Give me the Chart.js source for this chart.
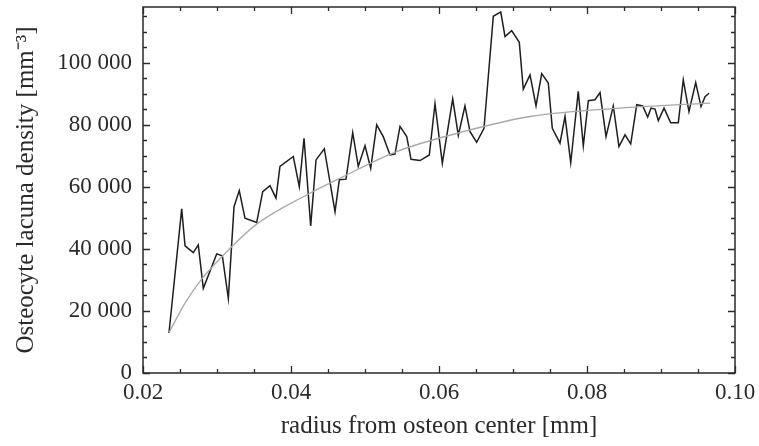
<!DOCTYPE html>
<html>
<head>
<meta charset="utf-8">
<script src="https://cdn.jsdelivr.net/npm/chart.js@4/dist/chart.umd.min.js"></script>
<style>
  html, body { margin: 0; padding: 0; background: #fff; }
  #wrap { width: 759px; height: 446px; }
</style>
</head>
<body>
<div id="wrap"><canvas id="chart" width="759" height="446"></canvas></div>
<script>
// radius from osteon center [mm], measured density [mm^-3]
const radius = [
    0.02351, 0.02523, 0.02568, 0.02680, 0.02747, 0.02815, 0.02996, 0.03072, 0.03153, 0.03230,
    0.03301, 0.03378, 0.03536, 0.03618, 0.03716, 0.03797, 0.03851, 0.04031, 0.04112, 0.04176,
    0.04266, 0.04338, 0.04450, 0.04595, 0.04653, 0.04743, 0.04834, 0.04909, 0.05000, 0.05077,
    0.05158, 0.05247, 0.05338, 0.05405, 0.05473, 0.05564, 0.05622, 0.05743, 0.05869, 0.05946,
    0.06045, 0.06185, 0.06261, 0.06351, 0.06419, 0.06509, 0.06608, 0.06734, 0.06834, 0.06892,
    0.06982, 0.07085, 0.07139, 0.07230, 0.07311, 0.07388, 0.07477, 0.07531, 0.07635, 0.07703,
    0.07780, 0.07882, 0.07950, 0.08018, 0.08108, 0.08176, 0.08257, 0.08355, 0.08432, 0.08514,
    0.08591, 0.08672, 0.08753, 0.08820, 0.08865, 0.08919, 0.08964, 0.09041, 0.09131, 0.09234,
    0.09301, 0.09378, 0.09469, 0.09541, 0.09595, 0.09649
];
const density = [
    12900, 52900, 41000, 38800, 41300, 27300, 38400, 37800, 24100, 53600,
    58800, 49900, 48500, 58500, 60400, 56400, 66600, 69800, 60100, 75700,
    47400, 68700, 72300, 52000, 62300, 62500, 77500, 66600, 73300, 66000,
    80000, 76200, 70300, 70600, 79500, 76200, 68900, 68500, 70300, 86800,
    67600, 88400, 76600, 86100, 77800, 74400, 78900, 115000, 116400, 108500,
    110400, 106600, 91500, 96100, 86100, 96500, 93500, 78900, 74100, 82700,
    67800, 90800, 73200, 87800, 88100, 90400, 76200, 86100, 73000, 76800,
    73900, 86500, 86100, 82500, 85400, 85100, 81400, 85400, 80700, 80700,
    94500, 84300, 93600, 85900, 89100, 90200
];

// fitted curve
const fitRadius = [0.02351, 0.02568, 0.02784, 0.03199, 0.03536, 0.04212, 0.04662, 0.05428, 0.06328, 0.07230, 0.08446, 0.09662];
const fitDensity = [13000, 22500, 30000, 40700, 48000, 57400, 62800, 71400, 77800, 82700, 85400, 87000];

const xTicks = [0.02, 0.04, 0.06, 0.08, 0.10];
const yTicks = [0, 20000, 40000, 60000, 80000, 100000];

const FONT = "'Liberation Serif', 'Times New Roman', serif";
const INK = '#2a2a2a';

function formatThousands(v) {
    return String(Math.round(v)).replace(/\B(?=(\d{3})+(?!\d))/g, ' ');
}

// Mathematica-style frame with inward ticks on all four sides
const framePlugin = {
    id: 'frame',
    afterDraw(chart) {
        const { ctx, chartArea: a, scales } = chart;
        const xs = scales.x, ys = scales.y;
        ctx.save();
        ctx.strokeStyle = INK;
        ctx.lineWidth = 1.5;
        ctx.strokeRect(a.left, a.top, a.right - a.left, a.bottom - a.top);

        ctx.lineWidth = 1.3;
        ctx.beginPath();
        for (let i = 0; i <= 16; i++) {
            const v = 0.02 + i * 0.005;
            const px = Math.round(xs.getPixelForValue(v)) + 0.5;
            const len = i % 4 === 0 ? 7 : 4;
            ctx.moveTo(px, a.bottom); ctx.lineTo(px, a.bottom - len);
            ctx.moveTo(px, a.top); ctx.lineTo(px, a.top + len);
        }
        for (let v = 0; v <= ys.max; v += 5000) {
            const py = Math.round(ys.getPixelForValue(v)) + 0.5;
            const len = v % 20000 === 0 ? 7 : 4;
            ctx.moveTo(a.left, py); ctx.lineTo(a.left + len, py);
            ctx.moveTo(a.right, py); ctx.lineTo(a.right - len, py);
        }
        ctx.stroke();
        ctx.restore();
    }
};

const ctx = document.getElementById('chart').getContext('2d');
new Chart(ctx, {
    type: 'scatter',
    data: {
        datasets: [
            {
                label: 'fit',
                data: fitRadius.map((r, i) => ({ x: r, y: fitDensity[i] })),
                showLine: true,
                borderColor: '#a8a8a8',
                borderWidth: 1.3,
                pointRadius: 0,
                cubicInterpolationMode: 'monotone'
            },
            {
                label: 'density',
                data: radius.map((r, i) => ({ x: r, y: density[i] })),
                showLine: true,
                borderColor: '#1e1e1e',
                borderWidth: 1.5,
                pointRadius: 0,
                tension: 0
            }
        ]
    },
    options: {
        responsive: false,
        animation: false,
        events: [],
        layout: { padding: { top: 7, right: 24, left: 0, bottom: 0 } },
        plugins: {
            legend: { display: false },
            tooltip: { enabled: false }
        },
        scales: {
            x: {
                type: 'linear',
                min: 0.02,
                max: 0.10,
                afterBuildTicks: s => { s.ticks = xTicks.map(v => ({ value: v })); },
                afterFit: s => { s.height = 73; s.paddingLeft = 0; s.paddingRight = 0; },
                grid: { display: false, drawTicks: false },
                border: { display: false },
                ticks: {
                    color: INK,
                    padding: 6,
                    maxRotation: 0,
                    font: { family: FONT, size: 23 },
                    callback: v => v.toFixed(2)
                },
                title: {
                    display: true,
                    text: 'radius from osteon center [mm]',
                    color: INK,
                    font: { family: FONT, size: 25 },
                    padding: { top: 0, bottom: 5 }
                }
            },
            y: {
                type: 'linear',
                min: 0,
                max: 118000,
                afterBuildTicks: s => { s.ticks = yTicks.map(v => ({ value: v })); },
                afterFit: s => { s.width = 143; s.paddingTop = 0; s.paddingBottom = 0; },
                grid: { display: false, drawTicks: false },
                border: { display: false },
                ticks: {
                    color: INK,
                    padding: 11,
                    font: { family: FONT, size: 23 },
                    callback: v => formatThousands(v)
                },
                title: {
                    display: true,
                    text: 'Osteocyte lacuna density [mm\u207B\u00B3]',
                    color: INK,
                    font: { family: FONT, size: 25 },
                    padding: { top: 11, bottom: 0 }
                }
            }
        }
    },
    plugins: [framePlugin]
});
</script>
</body>
</html>
